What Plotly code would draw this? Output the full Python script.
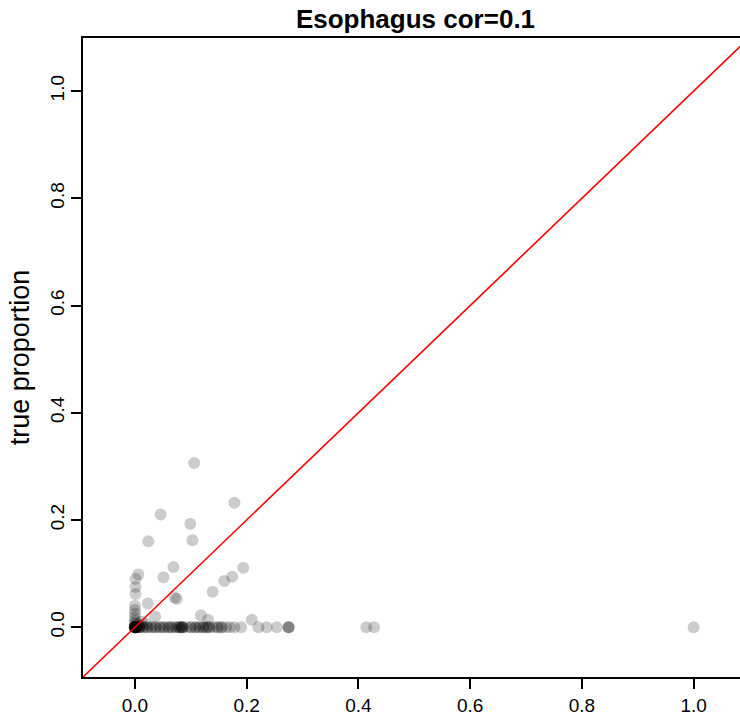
import plotly.graph_objects as go

# Off-axis points (estimated proportion, true proportion)
off_x = [0.178, 0.046, 0.099, 0.103, 0.024, 0.069, 0.194, 0.006, 0.001, 0.051,
         0.174, 0.160, 0.001, 0.001, 0.139, 0.071, 0.075, 0.023, 0.0, 0.0,
         0.0, 0.0, 0.0, 0.036, 0.118, 0.131, 0.209, 0.012, 0.020, 0.106,
         0.0, 0.0, 0.005, 0.010]
off_y = [0.232, 0.210, 0.193, 0.162, 0.160, 0.112, 0.111, 0.098, 0.090, 0.093,
         0.094, 0.086, 0.075, 0.062, 0.066, 0.055, 0.053, 0.044, 0.040, 0.032,
         0.025, 0.018, 0.012, 0.020, 0.022, 0.014, 0.014, 0.010, 0.006, 0.306,
         0.008, 0.004, 0.006, 0.003]

# Points on the true=0 row: estimated values and multiplicity
row_x = [0.0, 0.003, 0.008, 0.015, 0.022, 0.030, 0.037, 0.045, 0.052, 0.060,
         0.066, 0.074, 0.080, 0.085, 0.093, 0.100, 0.108, 0.115, 0.122, 0.128,
         0.133, 0.141, 0.148, 0.155, 0.163, 0.170, 0.178, 0.190, 0.221, 0.236,
         0.254, 0.275, 0.414, 0.428, 1.0]
row_n = [12, 4, 3, 2, 2, 2, 2, 2, 2, 2,
         2, 2, 3, 4, 1, 2, 2, 2, 2, 2,
         2, 1, 2, 2, 1, 1, 1, 1, 1, 1,
         1, 3, 1, 1, 1]

ticks = [0.0, 0.2, 0.4, 0.6, 0.8, 1.0]
tick_text = ["0.0", "0.2", "0.4", "0.6", "0.8", "1.0"]
identity = [-0.2, 1.3]

xs = list(off_x)
ys = list(off_y)
for xv, n in zip(row_x, row_n):
    xs += [xv] * n
    ys += [0.0] * n

fig = go.Figure()
fig.add_trace(go.Scatter(
    x=xs, y=ys, mode="markers",
    marker=dict(size=12, color="rgba(0,0,0,0.2)", line=dict(width=0)),
    hoverinfo="skip", cliponaxis=True,
))
fig.add_trace(go.Scatter(
    x=identity, y=identity, mode="lines",
    line=dict(color="#ff0000", width=1.6), hoverinfo="skip",
))

font = "Liberation Sans, Arial, Helvetica, sans-serif"
fig.update_layout(
    width=740, height=726,
    margin=dict(l=83, r=0, t=38, b=49),
    paper_bgcolor="white", plot_bgcolor="white",
    showlegend=False,
    font=dict(family=font, color="black", size=19),
    title=dict(text="<b>Esophagus cor=0.1</b>", x=0.5615, xanchor="center",
               y=1 - 19 / 726, yanchor="middle", font=dict(size=26, family=font)),
)
fig.update_xaxes(
    range=[-0.093, 1.083], tickvals=ticks, ticktext=tick_text,
    showgrid=False, zeroline=False, showline=True, linecolor="black",
    linewidth=1.5, mirror=True, ticks="outside", ticklen=10, tickwidth=1.5,
    tickcolor="black", tickfont=dict(size=19),
)
fig.update_yaxes(
    range=[-0.093, 1.099], tickvals=ticks, ticktext=tick_text,
    showgrid=False, zeroline=False, showline=True, linecolor="black",
    linewidth=1.5, mirror=False, ticks="outside", ticklen=10, tickwidth=1.5,
    tickcolor="black", tickangle=-90, tickfont=dict(size=19),
    title=dict(text="true proportion", font=dict(size=27), standoff=9),
)
fig.write_html("out.html")
